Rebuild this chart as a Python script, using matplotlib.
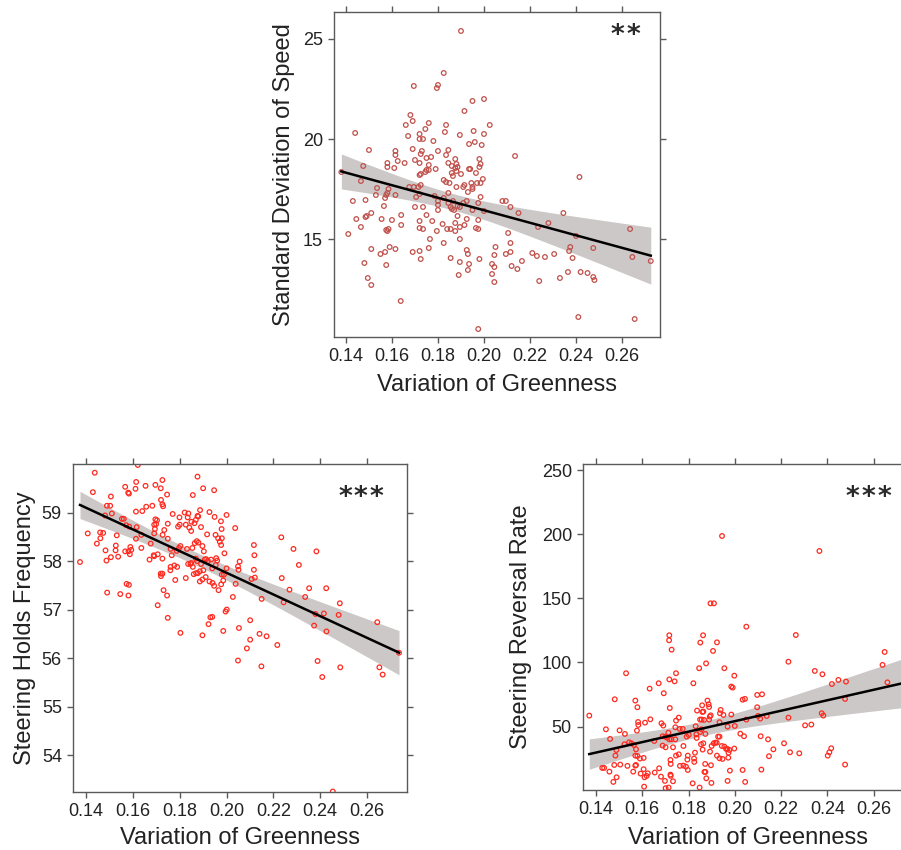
#!/usr/bin/env python3
"""Greenness variation vs. driving behaviour: three scatter panels with linear fits."""

import matplotlib
matplotlib.use("Agg")
import matplotlib.pyplot as plt
import numpy as np

plt.rcParams['font.family'] = ['Liberation Sans', 'DejaVu Sans']

# --- Standard deviation of speed ---
sd_green = [
    0.190, 0.1825, 0.1695, 0.1795, 0.180, 0.195, 0.200, 0.1915, 0.168, 0.166,
    0.169, 0.1745, 0.176, 0.1835, 0.183, 0.2025, 0.167, 0.172, 0.172, 0.1735,
    0.144, 0.1895, 0.1955, 0.200, 0.178, 0.180, 0.1845, 0.1935, 0.196, 0.199,
    0.150, 0.1615, 0.1615, 0.169, 0.173, 0.1725, 0.1835, 0.175, 0.177, 0.1875,
    0.198, 0.158, 0.158, 0.1625, 0.1655, 0.170, 0.172, 0.176, 0.1845, 0.186,
    0.188, 0.1885, 0.1875, 0.188, 0.1985, 0.198, 0.1475, 0.161, 0.175, 0.179,
    0.1935, 0.194, 0.2135, 0.2415, 0.138, 0.1465, 0.172, 0.1725, 0.1745, 0.176,
    0.186, 0.1865, 0.190, 0.1965, 0.1995, 0.1985, 0.197, 0.1825, 0.1835, 0.185,
    0.1915, 0.191, 0.188, 0.1945, 0.195, 0.193, 0.1535, 0.1585, 0.1675, 0.1695,
    0.1715, 0.1725, 0.1575, 0.158, 0.157, 0.1615, 0.153, 0.1705, 0.172, 0.1785,
    0.1845, 0.1825, 0.195, 0.1985, 0.143, 0.1485, 0.1565, 0.170, 0.1735, 0.180,
    0.180, 0.180, 0.1845, 0.1855, 0.186, 0.187, 0.1865, 0.1885, 0.1895, 0.191,
    0.1925, 0.1975, 0.195, 0.200, 0.208, 0.2095, 0.2115, 0.215, 0.2345, 0.151,
    0.149, 0.1485, 0.1445, 0.1555, 0.160, 0.164, 0.175, 0.172, 0.172, 0.1735,
    0.1775, 0.182, 0.1885, 0.1925, 0.1875, 0.1975, 0.1895, 0.1915, 0.1465, 0.1585,
    0.158, 0.1575, 0.164, 0.1795, 0.184, 0.1855, 0.1875, 0.1965, 0.1975, 0.2105,
    0.2235, 0.228, 0.2635, 0.141, 0.1765, 0.1825, 0.1895, 0.2115, 0.240, 0.159,
    0.151, 0.155, 0.157, 0.1615, 0.169, 0.172, 0.1725, 0.176, 0.1925, 0.193,
    0.205, 0.2045, 0.2095, 0.2115, 0.221, 0.223, 0.2265, 0.2305, 0.2375, 0.237,
    0.2385, 0.2475, 0.2645, 0.2725, 0.148, 0.1575, 0.1855, 0.1895, 0.198, 0.1935,
    0.193, 0.2035, 0.2045, 0.212, 0.2145, 0.2165, 0.2365, 0.242, 0.245, 0.233,
    0.2475, 0.248, 0.1495, 0.151, 0.189, 0.2035, 0.2045, 0.224, 0.1638, 0.241,
    0.2655, 0.1975,
]
sd_speed = [
    25.4, 23.3, 22.65, 22.55, 22.7, 21.9, 22.0, 21.4, 21.2, 20.7,
    20.9, 20.5, 20.8, 20.7, 20.35, 20.7, 20.15, 20.25, 20.0, 20.0,
    20.3, 20.2, 20.4, 20.25, 19.9, 19.4, 19.45, 19.75, 19.85, 19.7,
    19.45, 19.4, 19.2, 19.5, 19.4, 19.25, 19.2, 19.05, 19.1, 19.0,
    19.0, 18.8, 18.6, 18.9, 18.8, 18.95, 18.8, 18.7, 18.8, 18.65,
    18.75, 18.6, 18.55, 18.4, 18.75, 18.6, 18.65, 18.55, 18.45, 18.5,
    18.5, 18.5, 19.15, 18.1, 18.35, 17.9, 18.2, 18.25, 18.35, 18.45,
    18.3, 18.15, 18.25, 18.3, 18.0, 17.8, 17.8, 17.95, 17.85, 17.8,
    17.7, 17.6, 17.6, 17.8, 17.6, 17.35, 17.55, 17.5, 17.6, 17.6,
    17.6, 17.7, 17.2, 17.3, 17.05, 17.2, 17.2, 17.1, 17.25, 17.15,
    17.3, 17.05, 17.5, 17.1, 16.9, 16.95, 16.65, 16.6, 16.6, 16.9,
    16.7, 16.45, 16.8, 16.6, 16.5, 16.45, 16.9, 16.65, 16.6, 16.8,
    16.9, 16.8, 16.45, 16.4, 16.9, 16.9, 16.6, 16.3, 16.3, 16.3,
    16.15, 16.1, 16.0, 16.0, 15.95, 16.2, 16.2, 15.9, 15.55, 15.5,
    15.9, 15.75, 16.15, 16.0, 15.8, 15.95, 15.6, 15.7, 15.6, 15.5,
    15.4, 15.45, 15.7, 15.4, 15.5, 15.5, 15.4, 15.55, 15.5, 15.3,
    15.6, 15.8, 15.5, 15.25, 15.0, 14.8, 15.0, 14.8, 15.15, 14.6,
    14.5, 14.25, 14.35, 14.5, 14.35, 14.4, 14.0, 14.55, 14.45, 14.25,
    14.6, 14.2, 14.25, 14.35, 14.3, 14.15, 14.1, 14.25, 14.6, 14.4,
    14.05, 14.55, 14.1, 13.9, 13.8, 13.7, 14.05, 13.85, 14.0, 13.75,
    13.45, 13.75, 13.6, 13.65, 13.5, 13.9, 13.35, 13.35, 13.3, 13.05,
    13.1, 12.95, 13.05, 12.7, 13.2, 13.25, 12.85, 12.9, 11.9, 11.1,
    11.0, 10.5,
]

# --- Steering holds frequency ---
hold_green = [
    0.1437, 0.1429, 0.1567, 0.1583, 0.1580, 0.1614, 0.1611, 0.1654, 0.1696, 0.1719,
    0.1726, 0.1720, 0.1726, 0.1729, 0.1746, 0.1876, 0.1856, 0.1900, 0.1947, 0.1506,
    0.1489, 0.1503, 0.1510, 0.1481, 0.1657, 0.1683, 0.1613, 0.1640, 0.1821, 0.1837,
    0.1834, 0.1887, 0.1879, 0.1927, 0.1949, 0.2000, 0.1976, 0.1703, 0.1696, 0.1699,
    0.1553, 0.1561, 0.1571, 0.1584, 0.1616, 0.1691, 0.1694, 0.1749, 0.1770, 0.1799,
    0.1800, 0.1793, 0.1826, 0.1841, 0.1849, 0.1850, 0.1863, 0.1869, 0.1876, 0.1891,
    0.1979, 0.2037, 0.2234, 0.1407, 0.1460, 0.1473, 0.1461, 0.1446, 0.1531, 0.1613,
    0.1636, 0.1691, 0.1727, 0.1734, 0.1749, 0.1917, 0.1953, 0.1964, 0.1971, 0.1980,
    0.1977, 0.1864, 0.1873, 0.1880, 0.1676, 0.1803, 0.1797, 0.1787, 0.1761, 0.1831,
    0.1854, 0.1897, 0.1903, 0.1527, 0.1526, 0.1483, 0.1567, 0.1581, 0.1593, 0.1589,
    0.1636, 0.1587, 0.1506, 0.1537, 0.1487, 0.1671, 0.1689, 0.1691, 0.1706, 0.1726,
    0.1766, 0.1777, 0.1789, 0.1761, 0.1760, 0.1836, 0.1846, 0.1856, 0.1849, 0.1869,
    0.1874, 0.1891, 0.1907, 0.1913, 0.1920, 0.1934, 0.1956, 0.1960, 0.1954, 0.1991,
    0.2056, 0.2049, 0.2051, 0.2117, 0.2119, 0.2286, 0.2384, 0.2309, 0.2117, 0.2121,
    0.2107, 0.2236, 0.2000, 0.1939, 0.1901, 0.1886, 0.1860, 0.1870, 0.1877, 0.1911,
    0.1886, 0.1897, 0.1927, 0.1947, 0.1940, 0.1980, 0.1989, 0.1986, 0.1977, 0.1966,
    0.1719, 0.1726, 0.1720, 0.1826, 0.1781, 0.2039, 0.1573, 0.1583, 0.1490, 0.1546,
    0.1581, 0.1731, 0.1746, 0.1706, 0.1749, 0.2269, 0.2353, 0.2426, 0.2336, 0.2244,
    0.2150, 0.2027, 0.2001, 0.1996, 0.2484, 0.2380, 0.2416, 0.2479, 0.1931, 0.1939,
    0.1923, 0.1803, 0.1897, 0.1986, 0.2053, 0.2101, 0.2141, 0.2171, 0.2101, 0.2087,
    0.2217, 0.2049, 0.2149, 0.2374, 0.2427, 0.2389, 0.2409, 0.2486, 0.2644, 0.2653,
    0.2667, 0.2737, 0.2454, 0.1374, 0.1621,
]
hold_freq = [
    59.82, 59.42, 59.53, 59.39, 59.41, 59.63, 59.49, 59.55, 59.57, 59.50,
    59.67, 59.26, 59.17, 59.13, 59.37, 59.74, 59.36, 59.50, 59.46, 59.33,
    59.14, 59.14, 58.98, 58.94, 59.12, 59.14, 59.02, 59.03, 59.00, 58.98,
    58.90, 59.05, 58.92, 59.01, 58.91, 58.95, 58.82, 58.84, 58.86, 58.76,
    58.87, 58.87, 58.74, 58.71, 58.70, 58.75, 58.66, 58.77, 58.97, 58.90,
    58.75, 58.71, 58.75, 58.69, 58.62, 58.81, 58.78, 58.85, 58.93, 58.70,
    58.66, 58.68, 58.49, 58.57, 58.59, 58.58, 58.47, 58.36, 58.53, 58.46,
    58.54, 58.57, 58.54, 58.64, 58.46, 58.55, 58.54, 58.47, 58.40, 58.47,
    58.33, 58.37, 58.41, 58.38, 58.36, 58.31, 58.27, 58.21, 58.25, 58.25,
    58.27, 58.31, 58.20, 58.32, 58.22, 58.22, 58.20, 58.20, 58.23, 58.29,
    58.27, 58.14, 58.08, 58.09, 58.01, 58.03, 58.12, 58.10, 58.14, 58.05,
    58.12, 57.91, 57.88, 57.88, 57.81, 57.94, 57.94, 57.88, 57.96, 58.05,
    58.00, 57.94, 58.03, 58.04, 58.00, 58.03, 58.06, 58.01, 57.92, 58.16,
    57.99, 57.89, 57.82, 58.33, 58.12, 58.25, 58.20, 57.92, 57.82, 57.66,
    57.63, 57.65, 57.85, 57.85, 57.81, 57.79, 57.73, 57.75, 57.75, 57.67,
    57.58, 57.62, 57.58, 57.49, 57.55, 57.72, 57.72, 57.60, 57.52, 57.40,
    57.74, 57.74, 57.69, 57.65, 57.61, 57.53, 57.53, 57.51, 57.35, 57.32,
    57.29, 57.40, 57.29, 57.09, 56.83, 57.41, 57.44, 57.44, 57.26, 57.15,
    57.22, 57.26, 57.00, 56.96, 57.13, 56.91, 56.92, 56.89, 56.84, 56.85,
    56.70, 56.52, 56.47, 56.56, 56.62, 56.78, 56.50, 56.45, 56.38, 56.20,
    56.27, 55.95, 55.83, 56.67, 56.55, 55.94, 55.61, 55.81, 56.74, 55.81,
    55.66, 56.11, 53.25, 57.98, 59.98,
]

# --- Steering reversal rate (last point sits right of the visible frame) ---
rev_green = [
    0.1371, 0.1443, 0.1481, 0.1530, 0.1502, 0.1461, 0.1488, 0.1484, 0.1489, 0.1475,
    0.1427, 0.1435, 0.1458, 0.1479, 0.1505, 0.1525, 0.1523, 0.1536, 0.1543, 0.1553,
    0.1564, 0.1570, 0.1579, 0.1582, 0.1583, 0.1577, 0.1573, 0.1570, 0.1579, 0.1561,
    0.1570, 0.1573, 0.1590, 0.1606, 0.1593, 0.1606, 0.1610, 0.1608, 0.1619, 0.1624,
    0.1612, 0.1635, 0.1632, 0.1652, 0.1654, 0.1671, 0.1673, 0.1681, 0.1693, 0.1683,
    0.1691, 0.1688, 0.1700, 0.1707, 0.1688, 0.1701, 0.1698, 0.1701, 0.1717, 0.1716,
    0.1727, 0.1717, 0.1719, 0.1713, 0.1717, 0.1726, 0.1723, 0.1722, 0.1722, 0.1723,
    0.1733, 0.1714, 0.1733, 0.1740, 0.1746, 0.1746, 0.1758, 0.1743, 0.1743, 0.1746,
    0.1758, 0.1762, 0.1775, 0.1763, 0.1778, 0.1789, 0.1778, 0.1792, 0.1797, 0.1795,
    0.1797, 0.1801, 0.1821, 0.1818, 0.1828, 0.1824, 0.1825, 0.1831, 0.1834, 0.1835,
    0.1846, 0.1851, 0.1863, 0.1837, 0.1850, 0.1857, 0.1867, 0.1848, 0.1854, 0.1861,
    0.1864, 0.1850, 0.1856, 0.1873, 0.1859, 0.1864, 0.1860, 0.1869, 0.1873, 0.1877,
    0.1872, 0.1876, 0.1882, 0.1887, 0.1889, 0.1892, 0.1889, 0.1896, 0.1895, 0.1910,
    0.1923, 0.1906, 0.1939, 0.1936, 0.1951, 0.1934, 0.1945, 0.1955, 0.1998, 0.1928,
    0.1934, 0.1909, 0.1916, 0.1922, 0.1900, 0.1893, 0.1897, 0.1899, 0.1923, 0.1934,
    0.1944, 0.1955, 0.1947, 0.1963, 0.1968, 0.1977, 0.1969, 0.1973, 0.1972, 0.1979,
    0.1969, 0.1985, 0.1991, 0.1985, 0.2000, 0.1998, 0.2024, 0.2040, 0.2034, 0.2045,
    0.2034, 0.2044, 0.2050, 0.2050, 0.2097, 0.2097, 0.2118, 0.2101, 0.2110, 0.2112,
    0.2115, 0.2138, 0.2144, 0.2148, 0.2167, 0.2213, 0.2232, 0.2232, 0.2239, 0.2264,
    0.2279, 0.2304, 0.2331, 0.2346, 0.2366, 0.2376, 0.2383, 0.2379, 0.2402, 0.2409,
    0.2417, 0.2420, 0.2448, 0.2477, 0.2481, 0.2477, 0.2639, 0.2648, 0.2660, 0.2737,
]
rev_rate = [
    58.6, 47.9, 71.3, 91.6, 47.1, 40.4, 31.8, 27.4, 10.5, 6.9,
    17.8, 17.8, 14.9, 20.1, 20.4, 44.3, 36.2, 19.4, 37.8, 37.0,
    35.7, 70.3, 65.1, 53.6, 51.3, 46.9, 32.3, 27.4, 27.1, 14.9,
    19.6, 20.1, 25.1, 25.6, 13.4, 16.8, 10.5, 3.2, 11.6, 13.6,
    53.1, 55.7, 79.6, 38.8, 14.2, 83.8, 17.5, 11.0, 76.0, 52.6,
    50.8, 42.5, 42.2, 41.4, 35.2, 33.9, 7.7, 2.0, 121.2, 117.3,
    110.0, 86.8, 64.5, 45.3, 40.1, 40.1, 20.9, 24.0, 12.6, 11.6,
    7.4, 2.5, 33.9, 85.3, 91.6, 54.7, 57.0, 49.5, 40.1, 27.4,
    28.4, 48.2, 48.2, 19.4, 19.6, 18.8, 34.9, 42.2, 27.4, 24.3,
    16.2, 43.5, 83.8, 5.8, 29.7, 25.1, 22.5, 50.3, 44.0, 41.2,
    95.5, 115.5, 121.2, 62.5, 55.5, 55.5, 55.2, 2.5, 36.2, 32.1,
    37.0, 45.8, 47.9, 44.3, 66.6, 61.7, 61.4, 14.7, 14.7, 9.7,
    20.9, 99.3, 70.3, 67.4, 65.3, 57.8, 55.5, 58.8, 146.1, 146.1,
    115.7, 109.0, 63.0, 60.4, 59.1, 53.4, 198.6, 95.5, 89.7, 42.2,
    42.2, 37.0, 37.5, 37.5, 34.9, 30.5, 19.9, 6.1, 27.4, 25.3,
    34.9, 34.4, 24.8, 32.6, 32.6, 31.8, 50.0, 29.7, 25.8, 15.7,
    7.7, 81.2, 80.4, 59.4, 50.5, 32.9, 44.5, 42.5, 16.2, 6.9,
    71.0, 71.6, 127.9, 55.5, 65.1, 74.7, 75.2, 58.3, 56.2, 42.5,
    16.5, 58.3, 40.1, 26.9, 32.3, 37.0, 100.6, 57.0, 30.0, 121.4,
    29.2, 51.0, 51.6, 93.4, 186.9, 60.4, 58.6, 90.8, 27.4, 30.0,
    33.1, 83.2, 86.4, 71.6, 85.1, 20.4, 98.1, 108.2, 84.5, 84.0,
]

x_ticks = [0.14, 0.16, 0.18, 0.20, 0.22, 0.24, 0.26]
x_ticklabels = ['0.14', '0.16', '0.18', '0.20', '0.22', '0.24', '0.26']

BAND = '#cdc8c8'
FRAME = '#5a5a5a'
T_99 = 2.60  # two-sided 99% critical value, n ~ 200


def fit_band(x, y):
    """Least-squares line with a 99% confidence band for the mean."""
    x = np.asarray(x)
    y = np.asarray(y)
    n = len(x)
    slope, icpt = np.polyfit(x, y, 1)
    resid = y - (icpt + slope * x)
    s = np.sqrt(np.sum(resid ** 2) / (n - 2))
    xs = np.linspace(x.min(), x.max(), 100)
    se = s * np.sqrt(1.0 / n + (xs - x.mean()) ** 2 / np.sum((x - x.mean()) ** 2))
    yhat = icpt + slope * xs
    return xs, yhat, yhat - T_99 * se, yhat + T_99 * se


def panel(ax, x, y, color, xlim, ylim, yticks, ylabel, stars, star_xy, ylab_x, xlab_y):
    xs, yhat, lo, hi = fit_band(x, y)
    ax.fill_between(xs, lo, hi, color=BAND, lw=0, zorder=1)
    ax.scatter(x, y, s=11, facecolors='none', edgecolors=color, linewidths=0.9, zorder=2)
    ax.plot(xs, yhat, color='black', lw=1.8, zorder=3)
    ax.set_xlim(*xlim)
    ax.set_ylim(*ylim)
    ax.set_xticks(x_ticks)
    ax.set_xticklabels(x_ticklabels)
    ax.set_yticks(yticks)
    ax.tick_params(direction='out', length=4, width=1, color=FRAME, pad=4,
                   labelsize=13, labelcolor='#222222',
                   top=True, right=True)
    for sp in ax.spines.values():
        sp.set_color(FRAME)
        sp.set_linewidth(1)
    ax.set_xlabel('Variation of Greenness', fontsize=17, color='#222222', va='center')
    ax.set_ylabel(ylabel, fontsize=17, color='#222222', va='center')
    ax.xaxis.set_label_coords(0.5, xlab_y)
    ax.yaxis.set_label_coords(ylab_x, 0.5)
    # significance stars, one glyph each so the spacing can be set in points
    k = len(stars)
    for i, ch in enumerate(stars):
        ax.annotate(ch, xy=star_xy, xycoords='axes fraction',
                    xytext=((i - (k - 1) / 2) * 11.5, 0), textcoords='offset points',
                    ha='center', va='baseline', fontsize=19, fontweight='bold',
                    color='#2a2a2a', family='DejaVu Sans')


fig = plt.figure(figsize=(9.01, 8.5), dpi=100)

ax_top = fig.add_axes([0.3707, 0.6035, 0.3618, 0.3824])
panel(ax_top, sd_green, sd_speed, '#c0504a', (0.1348, 0.2765), (10.1, 26.35),
      [15, 20, 25], 'Standard Deviation of Speed', '**', (0.894, 0.906), -0.153, -0.148)

ax_bl = fig.add_axes([0.0810, 0.0682, 0.3707, 0.3859])
panel(ax_bl, hold_green, hold_freq, '#ff2a1f', (0.1344, 0.2771), (53.24, 60.0),
      [54, 55, 56, 57, 58, 59], 'Steering Holds Frequency', '***', (0.862, 0.875),
      -0.144, -0.14)

ax_br = fig.add_axes([0.6471, 0.0706, 0.3663, 0.3835])
panel(ax_br, rev_green, rev_rate, '#ff2a1f', (0.1344, 0.2771), (0.6, 254.7),
      [50, 100, 150, 200, 250], 'Steering Reversal Rate', '***', (0.864, 0.874),
      -0.188, -0.147)

fig.savefig('out.png', dpi=100)
print("Saved: out.png")
